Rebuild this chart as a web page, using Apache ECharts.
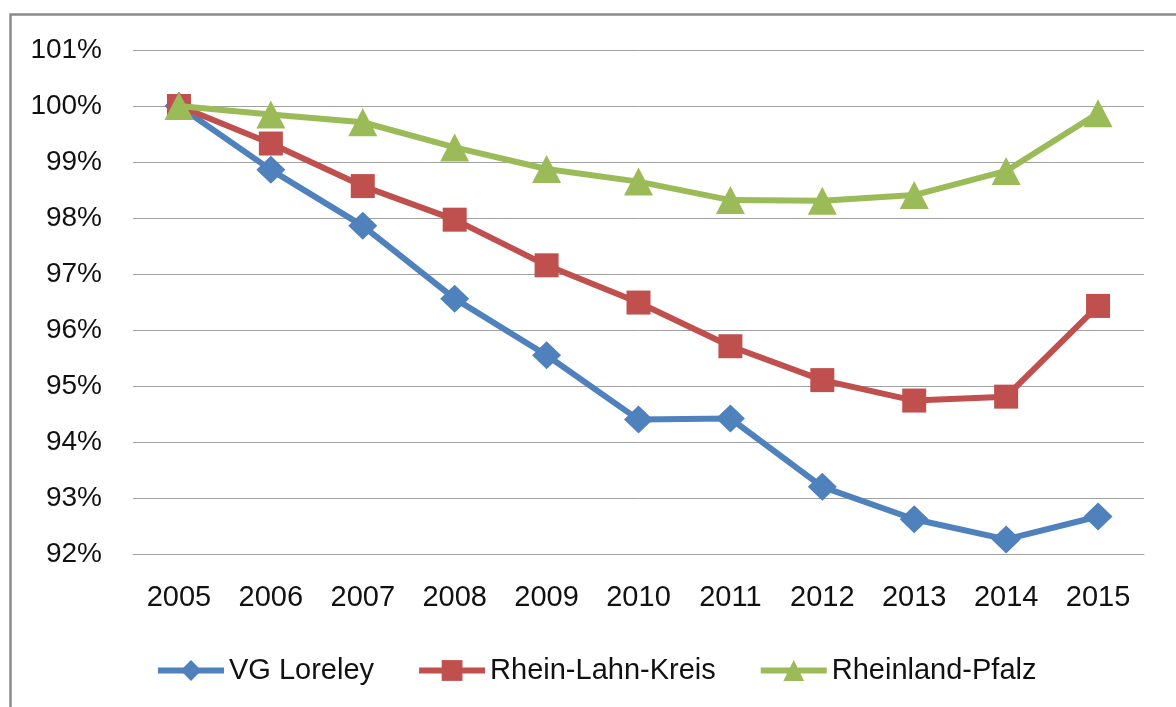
<!DOCTYPE html>
<html>
<head>
<meta charset="utf-8">
<script src="https://cdn.jsdelivr.net/npm/echarts@6/dist/echarts.min.js"></script>
<style>
html,body{margin:0;padding:0;background:#fff;}
#chart{width:1176px;height:707px;}
</style>
</head>
<body>
<div id="chart"></div>
<script>
const years = ['2005','2006','2007','2008','2009','2010','2011','2012','2013','2014','2015'];
const vgLoreley = [100, 98.86, 97.86, 96.56, 95.55, 94.40, 94.42, 93.20, 92.62, 92.26, 92.67];
const rheinLahnKreis = [100, 99.33, 98.57, 97.97, 97.155, 96.49, 95.71, 95.105, 94.74, 94.81, 96.43];
const rheinlandPfalz = [100, 99.85, 99.71, 99.26, 98.875, 98.65, 98.32, 98.31, 98.41, 98.84, 99.87];
const seriesNames = ['VG Loreley', 'Rhein-Lahn-Kreis', 'Rheinland-Pfalz'];

const font = '"Liberation Sans", Arial, sans-serif';
const chart = echarts.init(document.getElementById('chart'), null, {renderer: 'canvas'});
chart.setOption({
  animation: false,
  backgroundColor: '#ffffff',
  textStyle: {fontFamily: font},
  graphic: [{
    type: 'rect', left: 8, top: 12, silent: true,
    shape: {width: 1200, height: 720},
    style: {fill: 'none', stroke: '#8a8a8a', lineWidth: 2.5}
  }],
  grid: {left: 133, right: 32, top: 50, bottom: 153},
  legend: {
    top: 651, left: 150,
    itemWidth: 66, itemHeight: 26, itemGap: 42,
    lineStyle: {width: 6},
    textStyle: {fontSize: 29, color: '#111', fontFamily: font},
    data: seriesNames
  },
  xAxis: {
    type: 'category', data: years, boundaryGap: true,
    axisLine: {lineStyle: {color: '#a0a0a0', width: 1}},
    axisTick: {show: false},
    axisLabel: {fontSize: 29, color: '#111', margin: 29, fontFamily: font}
  },
  yAxis: {
    type: 'value', min: 92, max: 101, interval: 1,
    axisLine: {show: false}, axisTick: {show: false},
    axisLabel: {fontSize: 28, color: '#111', margin: 31, formatter: '{value}%', fontFamily: font},
    splitLine: {lineStyle: {color: '#a0a0a0', width: 1}}
  },
  series: [
    {name: seriesNames[0], type: 'line', data: vgLoreley, symbol: 'diamond', symbolSize: [29, 28],
     itemStyle: {color: '#4f81bd'}, lineStyle: {width: 6, color: '#4f81bd'}, z: 3},
    {name: seriesNames[1], type: 'line', data: rheinLahnKreis, symbol: 'rect', symbolSize: 24,
     itemStyle: {color: '#c0504d'}, lineStyle: {width: 6, color: '#c0504d'}, z: 4},
    {name: seriesNames[2], type: 'line', data: rheinlandPfalz, symbol: 'triangle', symbolSize: [29, 28],
     itemStyle: {color: '#9bbb59'}, lineStyle: {width: 6, color: '#9bbb59'}, z: 5}
  ]
});
</script>
</body>
</html>
